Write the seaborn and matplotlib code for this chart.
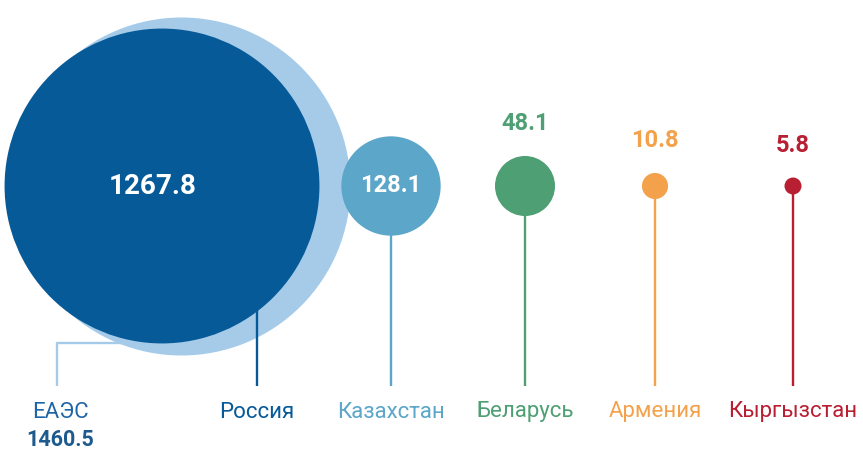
import matplotlib
matplotlib.use("Agg")
import matplotlib.pyplot as plt
import seaborn as sns
import pandas as pd

# data
names = ["ЕАЭС", "Россия", "Казахстан", "Беларусь", "Армения", "Кыргызстан"]
values = [1460.5, 1267.8, 128.1, 48.1, 10.8, 5.8]
value_labels = ["1460.5", "1267.8", "128.1", "48.1", "10.8", "5.8"]

# layout (figure is drawn in pixel units, y goes down)
W, H = 863, 451
center_x = [181, 162, 391, 525, 655, 793]
center_y = 186
stem_x = [57, 257, 391, 525, 655, 793]
stem_bottom = 386
label_y = 412
colors = ["#a5cbe9", "#065a98", "#5ba6c9", "#4e9f73", "#f4a14b", "#b81f33"]
label_colors = ["#1f64a6", "#065a98", "#5ba6c9", "#4e9f73", "#f4a14b", "#b81f33"]

# marker area range (points^2), smallest to largest bubble
px2pt = 72 / 100
r_min, r_max = 8.5, 169
size_range = ((2 * r_min * px2pt) ** 2, (2 * r_max * px2pt) ** 2)

sns.set_theme(style="white")
plt.rcParams["font.family"] = ["Roboto", "DejaVu Sans"]

df = pd.DataFrame({"name": names, "value": values, "x": center_x,
                   "y": [center_y] * len(names)})
palette = dict(zip(names, colors))

fig = plt.figure(figsize=(W / 100, H / 100), dpi=100)
ax = fig.add_axes([0, 0, 1, 1])

common = dict(x="x", y="y", size="value", sizes=size_range,
              size_norm=(min(values), max(values)), hue="name",
              palette=palette, legend=False, linewidth=0, ax=ax)

# total EAEU bubble in the back
sns.scatterplot(data=df.iloc[:1], zorder=1, **common)
# countries in front
sns.scatterplot(data=df.iloc[1:], zorder=3, **common)

# bubble radii in pixels, read back from the drawn collections
radii = []
for coll in ax.collections:
    for s in coll.get_sizes():
        radii.append(s ** 0.5 / 2 / px2pt)

# stems
ax.plot([stem_x[0], stem_x[0], center_x[0]], [stem_bottom, 343, 343],
        color=colors[0], lw=1.7, zorder=0.5, solid_capstyle="butt")
for i in range(1, len(names)):
    ax.plot([stem_x[i], stem_x[i]], [center_y, stem_bottom],
            color=colors[i], lw=1.7, zorder=2, solid_capstyle="butt")

# country names
for i, name in enumerate(names):
    ax.text(stem_x[i] + (3 if i == 0 else 0), label_y, name, ha="center",
            va="center", fontsize=16, color=label_colors[i])

# values
ax.text(stem_x[0] + 3, 440, value_labels[0], ha="center", va="center",
        fontsize=15.5, fontweight="bold", color="#1d5a8e")
ax.text(153, center_y, value_labels[1], ha="center", va="center",
        fontsize=20, fontweight="bold", color="white", zorder=5)
ax.text(center_x[2], center_y, value_labels[2], ha="center", va="center",
        fontsize=17, fontweight="bold", color="white", zorder=5)
for i in range(3, len(names)):
    ax.annotate(value_labels[i], (center_x[i], center_y),
                xytext=(0, (radii[i] + 26) * px2pt), textcoords="offset points",
                ha="center", va="baseline", fontsize=17, fontweight="bold",
                color=colors[i], zorder=5)

ax.set_xlim(0, W)
ax.set_ylim(H, 0)
ax.set_axis_off()

plt.savefig("out.png", dpi=100)
